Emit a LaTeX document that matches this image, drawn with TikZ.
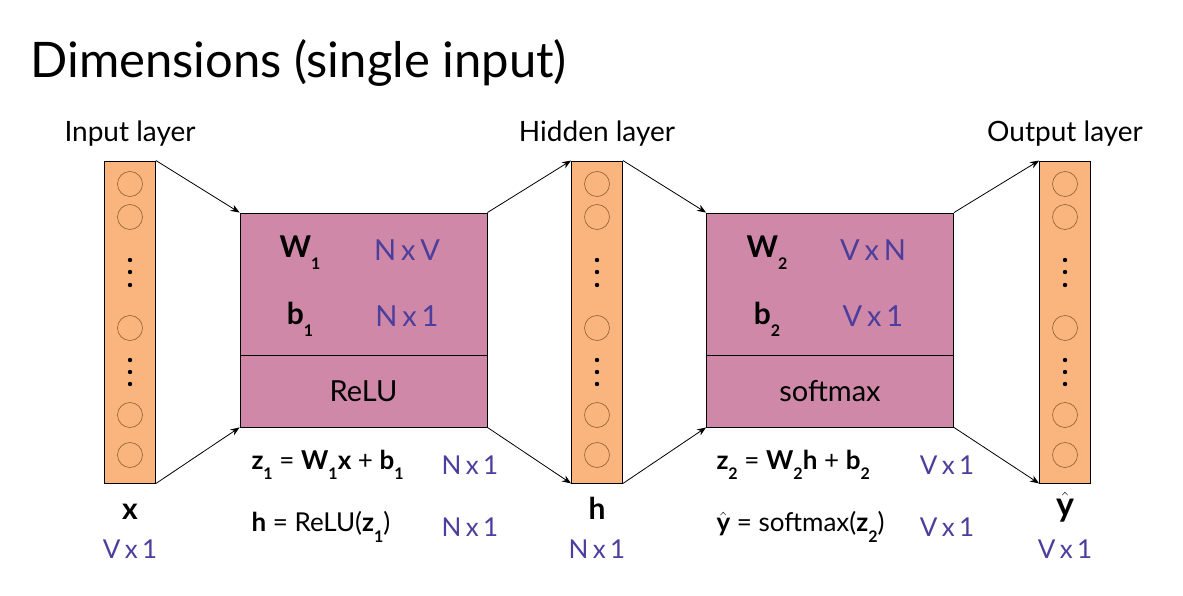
\documentclass[tikz,border=0pt]{standalone}
\usepackage{fontspec}
\setmainfont{Lato}
\usepackage{tikz}
\usetikzlibrary{positioning, arrows.meta}

\definecolor{layerorange}{RGB}{250,181,126}
\definecolor{boxmauve}{RGB}{207,136,168}
\definecolor{dimpurple}{RGB}{76,62,156}
\newcommand{\lowsub}[1]{\raisebox{-0.4em}{\fontsize{16}{16}\selectfont #1}}

\begin{document}
\begin{tikzpicture}[
  x=1pt, y=-1pt,
  font=\fontsize{28}{32}\selectfont,
  col/.style={draw, line width=0.9pt, fill=layerorange, minimum width=51pt,
              minimum height=322pt, inner sep=0pt},
  unit/.style={circle, draw=brown!75!black, line width=0.6pt, minimum size=25pt, inner sep=0pt},
  wbox/.style={draw, line width=0.9pt, fill=boxmauve, minimum width=247pt, inner sep=0pt,
               font=\fontsize{29}{32}\selectfont},
  arrow/.style={-{Stealth[length=9pt, width=7pt]}, line width=0.8pt},
  lab/.style={font=\fontsize{28}{32}\selectfont},
  dim/.style={text=dimpurple, font=\fontsize{26}{30}\selectfont},
  bigdim/.style={text=dimpurple, font=\fontsize{29}{32}\selectfont},
  eq/.style={anchor=west, font=\fontsize{26}{30}\selectfont},
]
\useasboundingbox (0,0) rectangle (1183,596);

\node[anchor=base west, font=\fontsize{49}{58}\selectfont] (title) at (27,78) {Dimensions (single input)};

\node[col] (incol) at (130,322) {};
\node[col] (hidcol) at (597,322) {};
\node[col] (outcol) at (1065,322) {};
\foreach \cx/\nm in {130/in, 597/hid, 1065/out} {
  \foreach \cy [count=\i] in {184,217,328,415,455}
    \node[unit] (\nm\i) at (\cx,\cy) {};
  \foreach \cy in {260,272,285,360,372,384}
    \fill (\cx,\cy) circle (2.2pt);
}

\node[lab] (inlab) at (130,134) {Input layer};
\node[lab] (hidlab) at (597,134) {Hidden layer};
\node[lab] (outlab) at (1065,134) {Output layer};

\node[wbox, minimum height=142pt] (w1box) at (363.5,284) {};
\node[wbox, minimum height=72pt] (relu) at (363.5,391) {ReLU};
\node[wbox, minimum height=142pt] (w2box) at (830,284) {};
\node[wbox, minimum height=72pt] (smax) at (830,391) {softmax};

\node[font=\fontsize{30}{32}\selectfont] (w1) at (300,253) {\textbf{W}\lowsub{\textbf{1}}};
\node[bigdim] (w1dim) at (407,250) {N\,x\,V};
\node[font=\fontsize{30}{32}\selectfont] (b1) at (300,319) {\textbf{b}\lowsub{\textbf{1}}};
\node[bigdim] (b1dim) at (407,316) {N\,x\,1};
\node[font=\fontsize{30}{32}\selectfont] (w2) at (767,253) {\textbf{W}\lowsub{\textbf{2}}};
\node[bigdim] (w2dim) at (873,250) {V\,x\,N};
\node[font=\fontsize{30}{32}\selectfont] (b2) at (767,319) {\textbf{b}\lowsub{\textbf{2}}};
\node[bigdim] (b2dim) at (873,316) {V\,x\,1};

\draw[arrow] (incol.north east) -- (w1box.north west);
\draw[arrow] (incol.south east) -- (relu.south west);
\draw[arrow] (w1box.north east) -- (hidcol.north west);
\draw[arrow] (relu.south east) -- (hidcol.south west);
\draw[arrow] (hidcol.north east) -- (w2box.north west);
\draw[arrow] (hidcol.south east) -- (smax.south west);
\draw[arrow] (w2box.north east) -- (outcol.north west);
\draw[arrow] (smax.south east) -- (outcol.south west);

\node[font=\fontsize{30}{32}\selectfont\bfseries] (xvec) at (130,512) {x};
\node[dim] (xdim) at (130,549) {V\,x\,1};
\node[font=\fontsize{30}{32}\selectfont\bfseries] (hvec) at (597,508) {h};
\node[dim] (hdim) at (597,549) {N\,x\,1};
\node[font=\fontsize{34}{34}\selectfont, inner sep=0pt] (yvec) at (1065,507) {$\hat{\mathbf{y}}$};
\node[dim] (ydim) at (1065,549) {V\,x\,1};

\node[eq] (z1eq) at (248,465) {\textbf{z}\lowsub{\textbf{1}} = \textbf{W}\lowsub{\textbf{1}}\textbf{x} + \textbf{b}\lowsub{\textbf{1}}};
\node[dim] (z1dim) at (470,465) {N\,x\,1};
\node[eq] (heq) at (248,527) {\textbf{h} = ReLU(\textbf{z}\lowsub{\textbf{1}})};
\node[dim] (hdim2) at (470,527) {N\,x\,1};
\node[eq] (z2eq) at (713,465) {\textbf{z}\lowsub{\textbf{2}} = \textbf{W}\lowsub{\textbf{2}}\textbf{h} + \textbf{b}\lowsub{\textbf{2}}};
\node[dim] (z2dim) at (947,465) {V\,x\,1};
\node[eq] (yeq) at (713,527) {$\hat{\mathbf{y}}$ = softmax(\textbf{z}\lowsub{\textbf{2}})};
\node[dim] (ydim2) at (947,527) {V\,x\,1};
\end{tikzpicture}
\end{document}
